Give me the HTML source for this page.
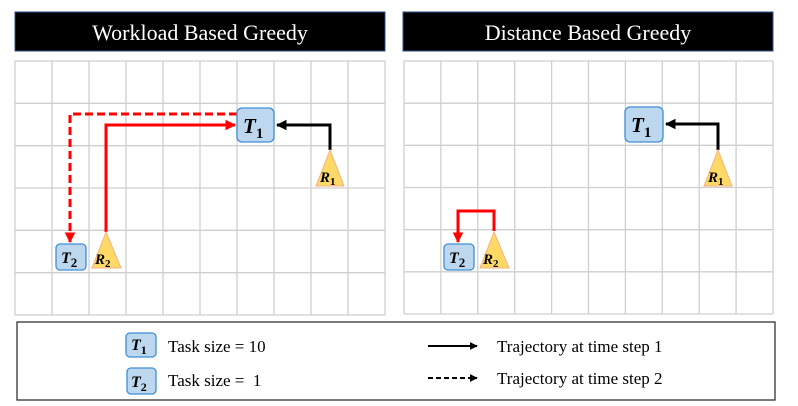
<!DOCTYPE html>
<html><head><meta charset="utf-8"><style>
html,body{margin:0;padding:0;background:#fff;}
svg{display:block;font-family:"Liberation Serif",serif;}
</style></head><body>
<svg width="798" height="406" viewBox="0 0 798 406">
<defs>
<marker id="ab" viewBox="0 0 10 10" refX="9" refY="5" markerWidth="3.6" markerHeight="3.6" orient="auto"><path d="M0,0 L10,5 L0,10 z" fill="#000"/></marker>
<marker id="ar" viewBox="0 0 10 10" refX="9" refY="5" markerWidth="3.6" markerHeight="3.6" orient="auto"><path d="M0,0 L10,5 L0,10 z" fill="#f00"/></marker>
<marker id="abs" viewBox="0 0 10 10" refX="9" refY="5" markerWidth="4" markerHeight="4" orient="auto"><path d="M0,0 L10,5 L0,10 z" fill="#000"/></marker>
</defs>

<g>
<rect x="15" y="12" width="370" height="39" fill="#000" stroke="#2f4f8f" stroke-width="1"/>
<text x="200" y="40" font-size="22" fill="#fff" text-anchor="middle">Workload Based Greedy</text>
<g id="gridL" stroke="#cfcfcf" stroke-width="1.3" fill="none"></g>
<path d="M330,150 V125 H277" stroke="#000" stroke-width="3" fill="none" marker-end="url(#ab)"/>
<path d="M106,232 V125 H235" stroke="#f00" stroke-width="3" fill="none" marker-end="url(#ar)"/>
<path d="M237,114 H70 V242" stroke="#f00" stroke-width="3" fill="none" stroke-dasharray="8,4" marker-end="url(#ar)"/>
<g><rect x="237" y="108" width="37" height="34" rx="5" fill="#bdd7ee" stroke="#3d8ed6" stroke-width="1.3"/><text x="243" y="133" font-size="21" font-weight="bold" font-style="italic">T<tspan font-size="15" font-style="normal" dy="5">1</tspan></text></g>
<g><rect x="56" y="244" width="30" height="26" rx="4" fill="#bdd7ee" stroke="#3d8ed6" stroke-width="1.3"/><text x="61" y="263" font-size="16" font-weight="bold" font-style="italic">T<tspan font-size="13" font-style="normal" dy="4">2</tspan></text></g>
<g><polygon points="330,150 316,186 344,186" fill="#ffd966" stroke="#f4b183" stroke-width="1"/><text x="320" y="182" font-size="15" font-weight="bold" font-style="italic">R<tspan font-size="11" font-style="normal" dy="3">1</tspan></text></g>
<g><polygon points="106,232 92,268 121,268" fill="#ffd966" stroke="#f4b183" stroke-width="1"/><text x="95" y="264" font-size="15" font-weight="bold" font-style="italic">R<tspan font-size="11" font-style="normal" dy="3">2</tspan></text></g>
</g>

<g>
<rect x="403" y="12" width="370" height="39" fill="#000" stroke="#2f4f8f" stroke-width="1"/>
<text x="588" y="40" font-size="22" fill="#fff" text-anchor="middle">Distance Based Greedy</text>
<g id="gridR" stroke="#cfcfcf" stroke-width="1.3" fill="none"></g>
<path d="M718,150 V124 H666" stroke="#000" stroke-width="3" fill="none" marker-end="url(#ab)"/>
<path d="M494,231 V211 H458 V242" stroke="#f00" stroke-width="3" fill="none" marker-end="url(#ar)"/>
<g><rect x="625" y="107" width="38" height="35" rx="5" fill="#bdd7ee" stroke="#3d8ed6" stroke-width="1.3"/><text x="631" y="132" font-size="21" font-weight="bold" font-style="italic">T<tspan font-size="15" font-style="normal" dy="5">1</tspan></text></g>
<g><rect x="444" y="244" width="30" height="26" rx="4" fill="#bdd7ee" stroke="#3d8ed6" stroke-width="1.3"/><text x="449" y="263" font-size="16" font-weight="bold" font-style="italic">T<tspan font-size="13" font-style="normal" dy="4">2</tspan></text></g>
<g><polygon points="718,150 704,186 732,186" fill="#ffd966" stroke="#f4b183" stroke-width="1"/><text x="708" y="182" font-size="15" font-weight="bold" font-style="italic">R<tspan font-size="11" font-style="normal" dy="3">1</tspan></text></g>
<g><polygon points="494,232 480,268 509,268" fill="#ffd966" stroke="#f4b183" stroke-width="1"/><text x="483" y="264" font-size="15" font-weight="bold" font-style="italic">R<tspan font-size="11" font-style="normal" dy="3">2</tspan></text></g>
</g>

<g>
<rect x="17" y="322" width="758" height="78" fill="#fff" stroke="#333" stroke-width="1.3"/>
<g><rect x="126" y="333" width="30" height="24" rx="4" fill="#bdd7ee" stroke="#3d8ed6" stroke-width="1.3"/><text x="131" y="350" font-size="16" font-weight="bold" font-style="italic">T<tspan font-size="12" font-style="normal" dy="4">1</tspan></text><text x="168" y="352" font-size="17">Task size = 10</text></g>
<g><rect x="127" y="368" width="29" height="26" rx="4" fill="#bdd7ee" stroke="#3d8ed6" stroke-width="1.3"/><text x="131" y="387" font-size="16" font-weight="bold" font-style="italic">T<tspan font-size="12" font-style="normal" dy="4">2</tspan></text><text x="168" y="386" font-size="17">Task size =&#160; 1</text></g>
<g><line x1="428" y1="346" x2="477" y2="346" stroke="#000" stroke-width="2" marker-end="url(#abs)"/><text x="497" y="352" font-size="17">Trajectory at time step 1</text></g>
<g><line x1="428" y1="378" x2="477" y2="378" stroke="#000" stroke-width="2" stroke-dasharray="5,3" marker-end="url(#abs)"/><text x="497" y="384" font-size="17">Trajectory at time step 2</text></g>
</g>
</svg>
<script>
function grid(id,x0,x1,y0,y1,cols,rows){
  var g=document.getElementById(id),ns="http://www.w3.org/2000/svg";
  for(var i=0;i<=cols;i++){var x=x0+(x1-x0)*i/cols;var l=document.createElementNS(ns,'line');
    
    
    l.setAttribute('x1',x);l.setAttribute('x2',x);l.setAttribute('y1',y0);l.setAttribute('y2',y1);g.appendChild(l);}
  for(var j=0;j<=rows;j++){var y=y0+(y1-y0)*j/rows;var l=document.createElementNS(ns,'line');
    
    
    l.setAttribute('x1',x0);l.setAttribute('x2',x1);l.setAttribute('y1',y);l.setAttribute('y2',y);g.appendChild(l);}
}
grid('gridL',15,385,61,315,10,6);
grid('gridR',404,773,61,314,10,6);
</script>
</body></html>
